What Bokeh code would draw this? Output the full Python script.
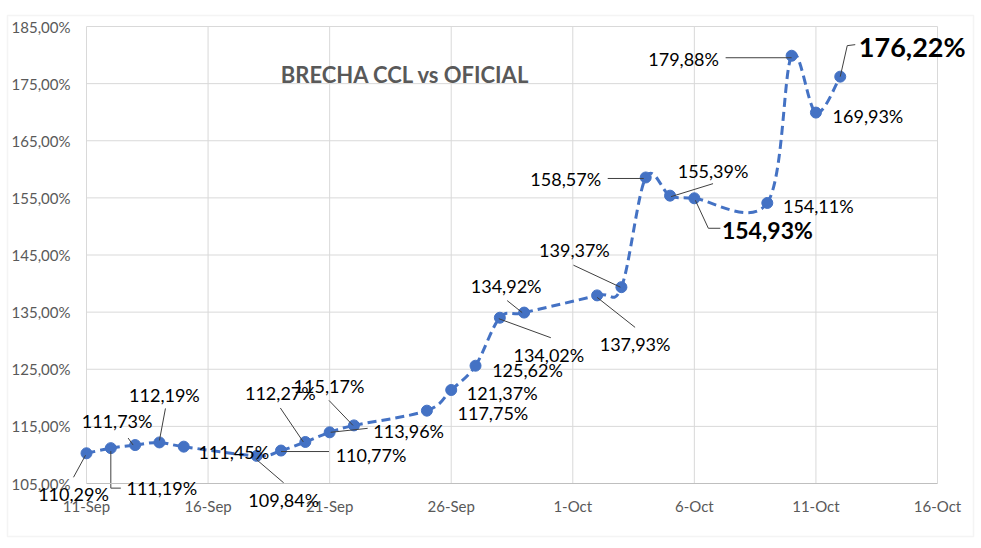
import numpy as np
import pandas as pd
from bokeh.plotting import figure
from bokeh.models import (Range1d, FixedTicker, CustomJSTickFormatter, ColumnDataSource,
                          BoxAnnotation, Label)
from bokeh.core.properties import value
from bokeh.embed import file_html
from bokeh.resources import INLINE

# ---------------- data ----------------
dates = ["2023-09-11", "2023-09-12", "2023-09-13", "2023-09-14", "2023-09-15",
         "2023-09-18", "2023-09-19", "2023-09-20", "2023-09-21", "2023-09-22",
         "2023-09-25", "2023-09-26", "2023-09-27", "2023-09-28", "2023-09-29",
         "2023-10-02", "2023-10-03", "2023-10-04", "2023-10-05", "2023-10-06",
         "2023-10-09", "2023-10-10", "2023-10-11", "2023-10-12"]
brecha = [110.29, 111.19, 111.73, 112.19, 111.45,
          109.84, 110.77, 112.27, 113.96, 115.17,
          117.75, 121.37, 125.62, 134.02, 134.92,
          137.93, 139.37, 158.57, 155.39, 154.93,
          154.11, 179.88, 169.93, 176.22]
x_tick_dates = ["2023-09-11", "2023-09-16", "2023-09-21", "2023-09-26",
                "2023-10-01", "2023-10-06", "2023-10-11", "2023-10-16"]
y_ticks = [105, 115, 125, 135, 145, 155, 165, 175, 185]
title_text = "BRECHA CCL vs OFICIAL"

# ---------------- layout (screen pixels) ----------------
W, H = 981, 548
P_LEFT, P_RIGHT, P_TOP, P_BOTTOM = 86, 937, 26, 483   # plot area edges on the canvas

# label centre offsets from the point (dx right, dy down); special label styles
label_style = {19: ("23px", "bold"), 23: ("27px", "bold")}
label_off = [(-13, 41), (51, 40), (-18, -24), (5, -47), (50, 5),
             (27, 44), (90, 4), (-25, -49), (79, -1), (-25, -39),
             (66, 2), (51, 3), (52, 4), (49, 37), (-18, -27),
             (38, 49), (-47, -37), (-80, 2), (43, -25), (73, 32),
             (51, 3), (-108, 3), (52, 3), (72, -30)]
# leader line paths, relative to the point
leaders = {
    0: [(-13, 24), (-1, 2)],
    1: [(0, 3), (0, 40), (10, 40)],
    2: [(-7, -7), (-2, 0)],
    3: [(6, -34), (0, -2)],
    5: [(27, 27), (-1, 3)],
    6: [(48, 1), (0, 1)],
    7: [(-25, -34), (-2, 0)],
    8: [(38, -4), (1, 0)],
    9: [(-25, -25), (-1, 0)],
    13: [(-1, 1), (51, 20)],
    14: [(-17, -12), (-2, 0)],
    15: [(38, 32), (0, 2)],
    16: [(-48, -22), (-1, 0)],
    17: [(-38, 1), (-2, 1)],
    18: [(43, -12), (1, 1)],
    19: [(1, 2), (14, 30), (26, 30)],
    21: [(-66, 2), (0, 2)],
    23: [(15, -32), (7, -31), (0, 0)],
}

x = pd.to_datetime(dates)
xms = (x.astype("int64") // 10**6).to_numpy().astype(float)
y = np.array(brecha, dtype=float)
labels = [f"{v:.2f}".replace(".", ",") + "%" for v in brecha]

x0 = pd.Timestamp(x_tick_dates[0]).value / 1e6
x1 = pd.Timestamp(x_tick_dates[-1]).value / 1e6
y0, y1 = y_ticks[0], y_ticks[-1]
ppx_x = (x1 - x0) / (P_RIGHT - P_LEFT)
ppx_y = (y1 - y0) / (P_BOTTOM - P_TOP)


def to_data(xd, yd, dx, dy):
    return xd + dx * ppx_x, yd - dy * ppx_y


# the frame spans the whole canvas so that labels are never clipped;
# the axes are pinned to the plot-area edges with fixed_location
p = figure(width=W, height=H, x_axis_type="datetime", output_backend="svg",
           toolbar_location=None,
           x_range=Range1d(x0 - P_LEFT * ppx_x, x1 + (W - P_RIGHT) * ppx_x),
           y_range=Range1d(y0 - (H - P_BOTTOM) * ppx_y, y1 + P_TOP * ppx_y),
           min_border=0)
p.title.visible = False
p.outline_line_color = None
p.background_fill_color = "white"
p.border_fill_color = "white"
p.xgrid.visible = False
p.ygrid.visible = False

tick_ms = [pd.Timestamp(d).value / 1e6 for d in x_tick_dates]
p.xaxis.ticker = FixedTicker(ticks=tick_ms)
p.xaxis.formatter = CustomJSTickFormatter(code="""
const m = ['Jan','Feb','Mar','Apr','May','Jun','Jul','Aug','Sep','Oct','Nov','Dec'];
const d = new Date(tick);
return d.getUTCDate() + '-' + m[d.getUTCMonth()];
""")
p.yaxis.ticker = FixedTicker(ticks=y_ticks)
p.yaxis.formatter = CustomJSTickFormatter(code="return tick.toFixed(2).replace('.', ',') + '%';")
p.xaxis.fixed_location = y0
p.yaxis.fixed_location = x0
p.xaxis.bounds = (x0, x1)
p.yaxis.bounds = (y0, y1)

for ax in (p.xaxis[0], p.yaxis[0]):
    ax.major_label_text_font = "Lato"
    ax.major_label_text_font_size = "15px"
    ax.major_label_text_color = "#595959"
    ax.major_tick_line_color = None
    ax.minor_tick_line_color = None
p.xaxis.axis_line_color = "#bfbfbf"
p.xaxis.axis_line_width = 1.2
p.xaxis.major_label_standoff = 7
p.yaxis.axis_line_color = None
p.yaxis.major_label_standoff = 10

# grid lines of the plot area, at the tick values
p.segment(x0=tick_ms, y0=[y0] * len(tick_ms), x1=tick_ms, y1=[y1] * len(tick_ms),
          line_color="#d9d9d9", line_width=1)
p.segment(x0=[x0] * len(y_ticks[1:]), y0=y_ticks[1:], x1=[x1] * len(y_ticks[1:]),
          y1=y_ticks[1:], line_color="#d9d9d9", line_width=1)

# outer chart border
p.add_layout(BoxAnnotation(left=7, right=973, top=15, bottom=536,
                           left_units="canvas", right_units="canvas",
                           top_units="canvas", bottom_units="canvas",
                           fill_alpha=0, line_color="#d9d9d9", line_width=1.5,
                           level="underlay"))

# smooth dashed line (Catmull-Rom as cubic Bezier segments)
n = len(xms)
seg = dict(x0=[], y0=[], x1=[], y1=[], cx0=[], cy0=[], cx1=[], cy1=[])
for i in range(n - 1):
    a = max(i - 1, 0)
    b = min(i + 2, n - 1)
    seg["x0"].append(xms[i]); seg["y0"].append(y[i])
    seg["x1"].append(xms[i + 1]); seg["y1"].append(y[i + 1])
    seg["cx0"].append(xms[i] + (xms[i + 1] - xms[a]) / 6)
    seg["cy0"].append(y[i] + (y[i + 1] - y[a]) / 6)
    seg["cx1"].append(xms[i + 1] - (xms[b] - xms[i]) / 6)
    seg["cy1"].append(y[i + 1] - (y[b] - y[i]) / 6)
p.bezier(x0="x0", y0="y0", x1="x1", y1="y1", cx0="cx0", cy0="cy0", cx1="cx1", cy1="cy1",
         source=ColumnDataSource(seg), line_color="#4472C4", line_width=3, line_dash="9 5")

p.scatter(xms, y, size=11, fill_color="#4472C4", line_color="#4472C4")

# leader lines
lxs, lys = [], []
for i, path in leaders.items():
    pts = [to_data(xms[i], y[i], dx, dy) for dx, dy in path]
    lxs.append([q[0] for q in pts]); lys.append([q[1] for q in pts])
p.multi_line(lxs, lys, line_color="#404040", line_width=1)

# data labels
for i in range(n):
    size, style = label_style.get(i, ("18px", "normal"))
    dx, dy = label_off[i]
    p.add_layout(Label(x=xms[i], y=y[i], x_offset=dx, y_offset=-dy, text=labels[i],
                       text_font="Lato", text_font_size=size, text_font_style=style,
                       text_color="#000000", text_align="center", text_baseline="middle"))

# chart title inside the plot area
tx, ty = to_data(x0, y1, 405 - P_LEFT, 74 - P_TOP)
p.add_layout(Label(x=tx, y=ty, text=title_text, text_font="Lato", text_font_size="22px",
                   text_font_style="bold", text_color="#595959", text_align="center",
                   text_baseline="middle"))

open("out.html", "w").write(file_html(p, INLINE))
